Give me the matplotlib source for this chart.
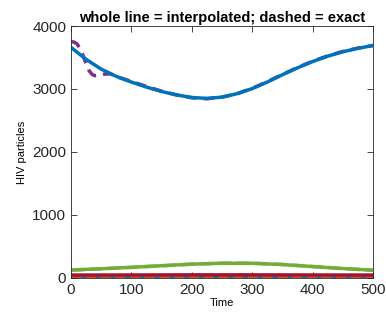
import numpy as np
import matplotlib.pyplot as plt

plt.rcParams['font.family'] = ['Liberation Sans', 'DejaVu Sans']

# sampled HIV particle counts over time
t_top = [0, 25, 50, 75, 100, 125, 150, 175, 200, 225, 250, 275, 300, 325, 350, 375, 400, 425, 450, 475, 500]
virus_interp = [3660, 3470, 3315, 3200, 3110, 3030, 2960, 2905, 2865, 2850, 2870, 2925, 3005, 3110, 3225, 3335, 3435, 3520, 3590, 3645, 3690]

t_exact = [0, 5, 10, 15, 20, 25, 30, 35, 40, 45, 55, 65, 80, 100, 125, 150, 175, 200, 225, 250, 275, 300, 325, 350, 375, 400, 425, 450, 475, 500]
virus_exact = [3750, 3745, 3715, 3640, 3530, 3400, 3290, 3230, 3210, 3215, 3235, 3240, 3180, 3120, 3040, 2965, 2905, 2860, 2845, 2870, 2925, 3010, 3115, 3230, 3340, 3440, 3525, 3595, 3648, 3690]

t_low = [0, 50, 100, 150, 200, 250, 300, 350, 400, 450, 500]
infected_interp = [125, 145, 168, 193, 218, 233, 232, 212, 180, 148, 122]
infected_exact = [123, 144, 167, 192, 217, 232, 232, 213, 181, 149, 121]
latent = [45, 45, 46, 47, 48, 48, 48, 47, 46, 45, 45]
free_low = [5, 5, 6, 6, 7, 8, 8, 7, 6, 6, 5]

blue = (0, 0.447, 0.741)
purple = (0.494, 0.184, 0.556)
green = (0.466, 0.674, 0.188)
cyan = (0.301, 0.745, 0.933)
red = (0.635, 0.078, 0.184)
orange = (0.85, 0.325, 0.098)

fig = plt.figure(figsize=(3.86, 3.25), dpi=100)
ax = fig.add_axes([0.184, 0.145, 0.782, 0.775])

ax.plot(t_low, free_low, color=blue, lw=2)
ax.plot(t_low, free_low, '--', color=orange, lw=2)
ax.plot(t_low, infected_exact, '--', color=cyan, lw=2.5)
ax.plot(t_low, infected_interp, color=green, lw=2.5)
ax.plot(t_low, latent, color=red, lw=2.5)
ax.plot(t_exact, virus_exact, '--', color=purple, lw=2.5, dashes=(3, 2))
ax.plot(t_top, virus_interp, color=blue, lw=2.5)

ax.set_xlim(0, 500)
ax.set_ylim(0, 4000)
ax.set_xticks([0, 100, 200, 300, 400, 500])
ax.set_yticks([0, 1000, 2000, 3000, 4000])
ax.tick_params(direction='in', top=True, right=True, labelsize=11,
               colors=(0.15, 0.15, 0.15), length=4, width=0.6)
for s in ax.spines.values():
    s.set_color((0.15, 0.15, 0.15))
    s.set_linewidth(0.6)

ax.set_xlabel('Time', fontsize=8, labelpad=1)
ax.set_ylabel('HIV particles', fontsize=8, labelpad=4)
ax.set_title('whole line = interpolated; dashed = exact', fontsize=10.5,
             fontweight='bold', pad=3)

fig.savefig('out.png', dpi=100)
